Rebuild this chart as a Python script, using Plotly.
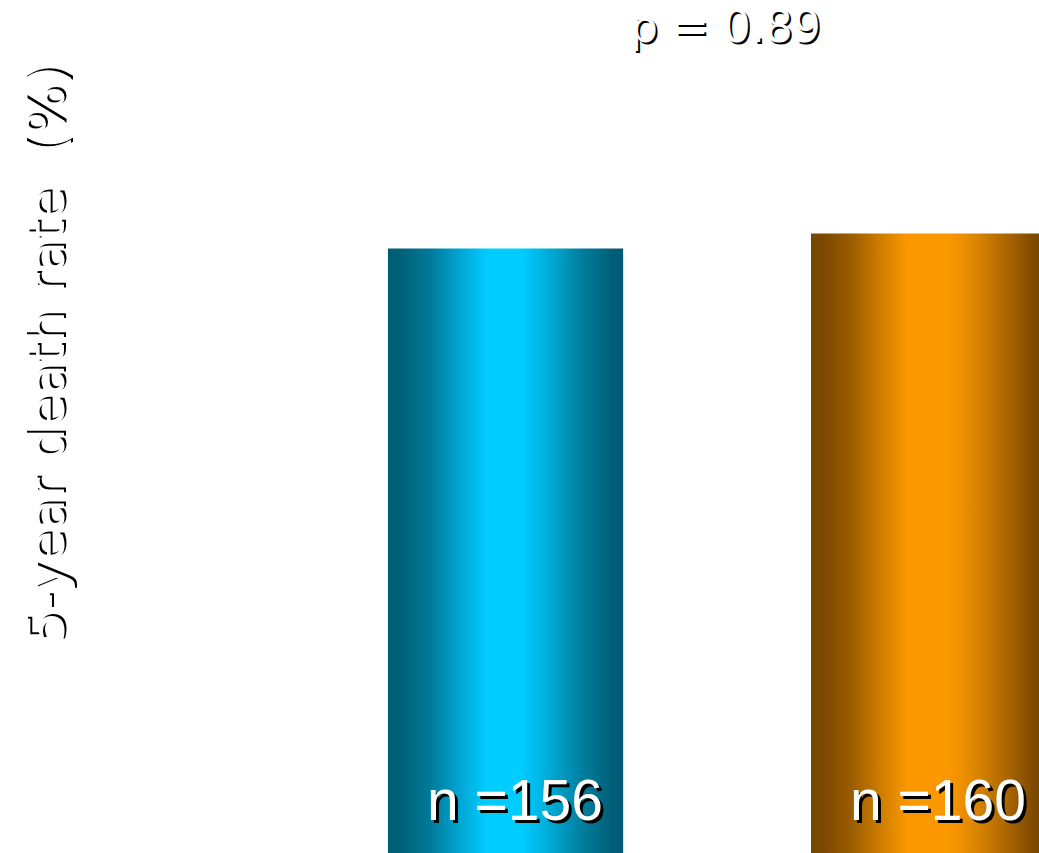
import plotly.graph_objects as go

# ---- data ----
groups = ["Group A", "Group B"]
death_rate = [40.4, 41.4]          # 5-year death rate (%)
n_labels = ["n =156", "n =160"]
p_label = "p = 0.89"
y_title = "5-year death rate  (%)"

# ---- style ----
bar_width = 0.556
scales = [
    [[0, "#005c74"], [0.05, "#005f78"], [0.18, "#007a9a"], [0.31, "#00a8d4"],
     [0.42, "#00ccff"], [0.57, "#00ccff"], [0.69, "#00aad6"], [0.82, "#0080a0"],
     [0.95, "#005f78"], [1, "#005c74"]],
    [[0, "#774600"], [0.05, "#7a4800"], [0.17, "#9a5c00"], [0.30, "#d07e00"],
     [0.41, "#fb9800"], [0.59, "#fb9800"], [0.71, "#d98400"], [0.84, "#a86400"],
     [0.95, "#7c4900"], [1, "#774600"]],
]

fig = go.Figure()
for i, (g, v) in enumerate(zip(groups, death_rate)):
    x0, x1 = i - bar_width / 2, i + bar_width / 2
    fig.add_trace(go.Scatter(
        x=[x0, x1, x1, x0, x0], y=[0, 0, v, v, 0],
        mode="lines", line=dict(width=0), fill="toself",
        fillgradient=dict(type="horizontal", colorscale=scales[i]),
        name=g, showlegend=False, hoverinfo="skip",
    ))
    fig.add_annotation(
        x=i, y=0.062, xref="x", yref="paper", text=n_labels[i], showarrow=False,
        xshift=9, yanchor="middle",
        font=dict(family="Liberation Sans, Arial", size=57, color="white",
                  shadow="3px 3px 0px black"),
    )

fig.add_annotation(
    x=0.698, y=1.0, xref="paper", yref="paper", text=p_label, showarrow=False,
    xanchor="center", yanchor="top", yshift=1,
    font=dict(family="DejaVu Sans", size=44, color="white",
              shadow="2px 2px 0px black"),
)
fig.add_annotation(
    x=0.044, y=0.584, xref="paper", yref="paper", text=y_title, showarrow=False,
    textangle=-90, xanchor="center", yanchor="middle",
    font=dict(family="DejaVu Sans", size=52, color="white",
              shadow="2px 2px 0px black"),
)

fig.update_layout(
    width=1039, height=853,
    margin=dict(l=0, r=0, t=0, b=0),
    paper_bgcolor="white", plot_bgcolor="white",
    xaxis=dict(range=[-1.195, 1.261], visible=False, fixedrange=True),
    yaxis=dict(range=[0, 57], visible=False, fixedrange=True),
)

fig.write_html("out.html")
